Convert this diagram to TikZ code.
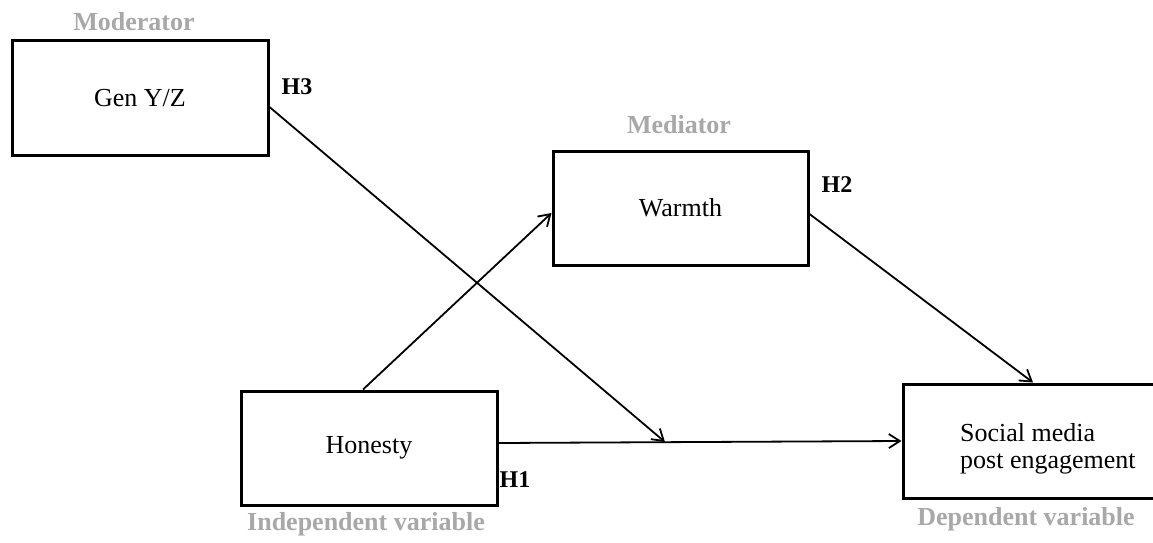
\documentclass[tikz,border=0pt]{standalone}
\usepackage{fontspec}
\setmainfont{Liberation Serif}
\usetikzlibrary{arrows.meta}
\definecolor{lblgray}{RGB}{168,168,168}
\begin{document}
\begin{tikzpicture}[x=1pt,y=-1pt,
  box/.style={draw, line width=3pt, minimum width=#1, minimum height=114pt, inner sep=0pt, font=\fontsize{26}{28}\selectfont},
  box/.default=256pt,
  role/.style={text=lblgray, font=\fontsize{26}{28}\selectfont\bfseries, inner sep=0pt},
  hyp/.style={font=\fontsize{24}{26}\selectfont\bfseries, inner sep=0pt},
  conn/.style={line width=1.8pt, -{Straight Barb[length=11pt,width=14pt,line width=1.8pt]}},
  plain/.style={line width=1.8pt}
]
\useasboundingbox (0,0) rectangle (1153,543);
\fill[white] (0,0) rectangle (1153,543);

\node[box] (gen) at (140,98) {Gen Y/Z};
\node[box=255pt] (warmth) at (680.5,208) {Warmth};
\node[box] (honesty) at (369,448) {Honesty};
\node[box=251pt] (social) at (1028.5,441) {};
\node[anchor=west, align=left, inner sep=0pt, font=\fontsize{26}{27}\selectfont] (socialtext) at (960,448.5) {Social media\\post engagement};

\node[role] (moderator) at (134,22) {Moderator};
\node[role] (mediator) at (679,125) {Mediator};
\node[role] (indep) at (366,524) {Independent variable};
\node[role] (dep) at (1026,519) {Dependent variable};

\node[hyp] (h3) at (297,87) {H3};
\node[hyp] (h2) at (837,185) {H2};
\node[hyp] (h1) at (515,480) {H1};

\coordinate (mid) at (665,442);

\draw[conn] ([yshift=5pt]honesty.east) -- (social.west);
\draw[conn] ([yshift=-9pt]gen.east) -- (mid);
\draw[conn] ([xshift=-6pt]honesty.north) -- ([yshift=-5pt]warmth.west);
\draw[conn] ([yshift=-6pt]warmth.east) -- ([xshift=4.5pt]social.north);
\end{tikzpicture}
\end{document}
